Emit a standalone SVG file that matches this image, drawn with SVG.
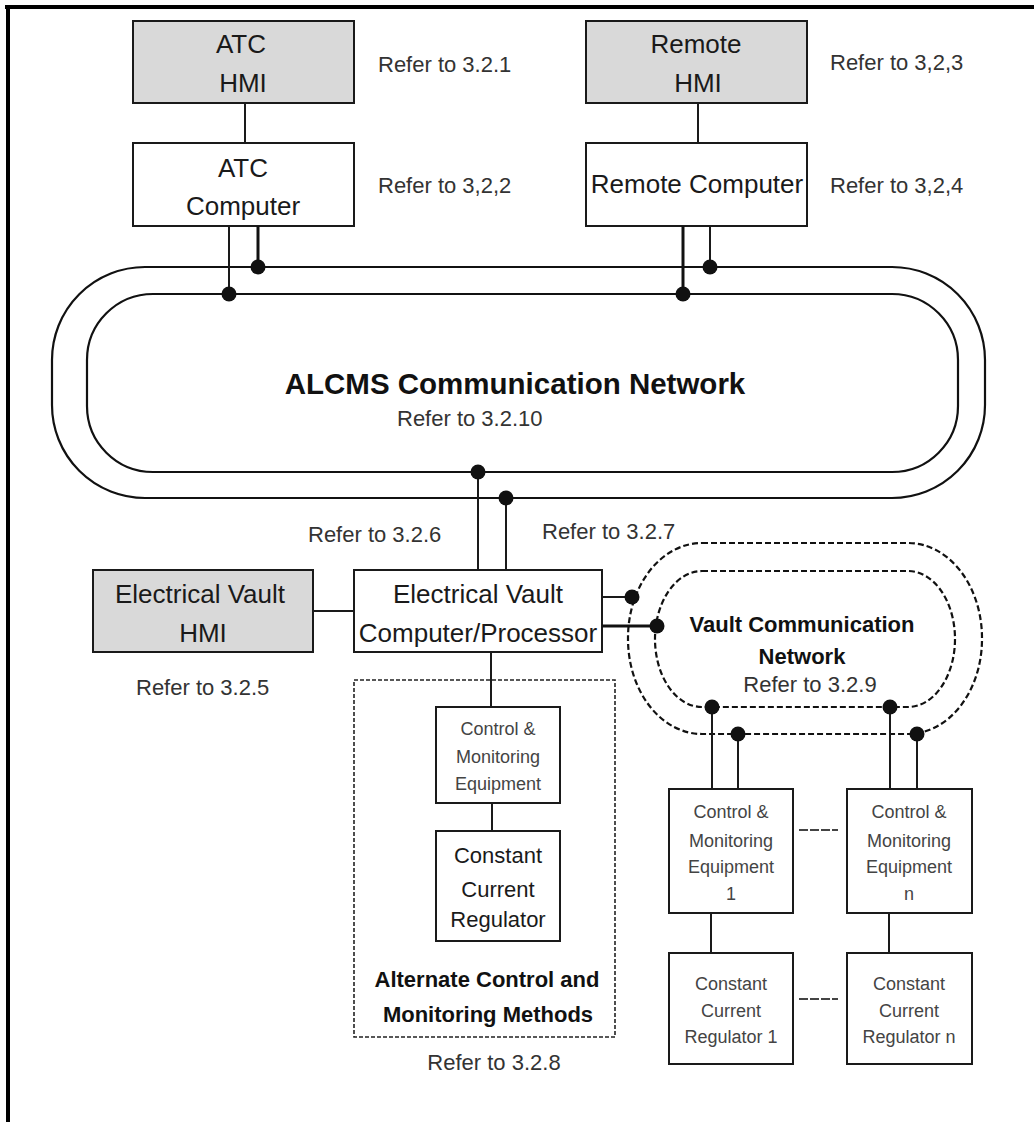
<svg xmlns="http://www.w3.org/2000/svg" width="1034" height="1122" viewBox="0 0 1034 1122">
<style>
.box{fill:#fff;stroke:#1a1a1a;stroke-width:2}
.gbox{fill:#d9d9d9;stroke:#1a1a1a;stroke-width:2}
.t{font-family:"Liberation Sans",Arial,sans-serif;font-size:26px;fill:#1a1a1a;text-anchor:middle}
.r{font-family:"Liberation Sans",Arial,sans-serif;font-size:22px;fill:#333}
.s{font-family:"Liberation Sans",Arial,sans-serif;font-size:18px;fill:#444;text-anchor:middle}
.m{font-family:"Liberation Sans",Arial,sans-serif;font-size:22px;fill:#1a1a1a;text-anchor:middle}
.b{font-family:"Liberation Sans",Arial,sans-serif;font-weight:bold;fill:#111;text-anchor:middle}
.ln{stroke:#1a1a1a;stroke-width:2;fill:none}
.lt{stroke:#111;stroke-width:3;fill:none}
.ring{fill:none;stroke:#111;stroke-width:2.2}
.dring{fill:none;stroke:#111;stroke-width:2.2;stroke-dasharray:6,3}
.dot{fill:#111}
</style>
<rect width="1034" height="1122" fill="#fff"/>
<!-- page border -->
<rect x="5" y="5" width="1029" height="4" fill="#000"/>
<rect x="6" y="5" width="4" height="1117" fill="#000"/>

<g id="alcms-network">
<rect class="ring" x="52" y="267" width="933" height="231" rx="93" ry="93"/>
<rect class="ring" x="87" y="294" width="871" height="178" rx="66" ry="66"/>
<text class="b" x="515" y="394" font-size="29.5">ALCMS Communication Network</text>
<text class="r" x="397" y="426">Refer to 3.2.10</text>
</g>

<g id="vault-network">
<rect class="dring" x="628" y="543" width="354" height="191" rx="74" ry="95"/>
<rect class="dring" x="655" y="571" width="300" height="136" rx="47" ry="68"/>
<text class="b" x="802" y="632" font-size="22">Vault Communication</text>
<text class="b" x="802" y="664" font-size="22">Network</text>
<text class="r" x="810" y="692" text-anchor="middle">Refer to 3.2.9</text>
</g>

<g id="atc-hmi">
<rect class="gbox" x="133" y="21" width="221" height="82"/>
<text class="t" x="241" y="53">ATC</text>
<text class="t" x="243" y="92">HMI</text>
<text class="r" x="378" y="72">Refer to 3.2.1</text>
</g>
<g id="atc-computer">
<rect class="box" x="133" y="143" width="221" height="83"/>
<text class="t" x="243" y="177">ATC</text>
<text class="t" x="243" y="215">Computer</text>
<text class="r" x="378" y="193">Refer to 3,2,2</text>
</g>
<g id="remote-hmi">
<rect class="gbox" x="586" y="21" width="221" height="82"/>
<text class="t" x="696" y="53">Remote</text>
<text class="t" x="698" y="92">HMI</text>
<text class="r" x="830" y="70">Refer to 3,2,3</text>
</g>
<g id="remote-computer">
<rect class="box" x="586" y="143" width="221" height="83"/>
<text class="t" x="697" y="193">Remote Computer</text>
<text class="r" x="830" y="193">Refer to 3,2,4</text>
</g>
<g id="ev-hmi">
<rect class="gbox" x="93" y="570" width="220" height="82"/>
<text class="t" x="200" y="603">Electrical Vault</text>
<text class="t" x="203" y="642">HMI</text>
<text class="r" x="136" y="695">Refer to 3.2.5</text>
</g>
<g id="ev-computer">
<rect class="box" x="354" y="570" width="248" height="82"/>
<text class="t" x="478" y="603">Electrical Vault</text>
<text class="t" x="478" y="642">Computer/Processor</text>
<text class="r" x="308" y="542">Refer to 3.2.6</text>
<text class="r" x="542" y="539">Refer to 3.2.7</text>
</g>
<g id="alternate-methods">
<rect x="354" y="680" width="261" height="357" fill="none" stroke="#222" stroke-width="1.6" stroke-dasharray="4,2"/>
<text class="b" x="487" y="987" font-size="22">Alternate Control and</text>
<text class="b" x="488" y="1022" font-size="22">Monitoring Methods</text>
<text class="r" x="494" y="1070" text-anchor="middle">Refer to 3.2.8</text>
</g>
<g id="alt-cme">
<rect class="box" x="436" y="707" width="124" height="96"/>
<text class="s" x="498" y="735">Control &amp;</text>
<text class="s" x="498" y="763">Monitoring</text>
<text class="s" x="498" y="790">Equipment</text>
</g>
<g id="alt-ccr">
<rect class="box" x="436" y="831" width="124" height="110"/>
<text class="m" x="498" y="863">Constant</text>
<text class="m" x="498" y="897">Current</text>
<text class="m" x="498" y="927">Regulator</text>
</g>
<g id="cme-1">
<rect class="box" x="669" y="789" width="124" height="124"/>
<text class="s" x="731" y="818">Control &amp;</text>
<text class="s" x="731" y="847">Monitoring</text>
<text class="s" x="731" y="873">Equipment</text>
<text class="s" x="731" y="900">1</text>
</g>
<g id="cme-n">
<rect class="box" x="847" y="789" width="125" height="124"/>
<text class="s" x="909" y="818">Control &amp;</text>
<text class="s" x="909" y="847">Monitoring</text>
<text class="s" x="909" y="873">Equipment</text>
<text class="s" x="909" y="900">n</text>
</g>
<g id="ccr-1">
<rect class="box" x="669" y="953" width="124" height="111"/>
<text class="s" x="731" y="990">Constant</text>
<text class="s" x="731" y="1017">Current</text>
<text class="s" x="731" y="1043">Regulator 1</text>
</g>
<g id="ccr-n">
<rect class="box" x="847" y="953" width="125" height="111"/>
<text class="s" x="909" y="990">Constant</text>
<text class="s" x="909" y="1017">Current</text>
<text class="s" x="909" y="1043">Regulator n</text>
</g>

<g id="connectors">
<line class="ln" x1="245" y1="103" x2="245" y2="143"/>
<line class="ln" x1="698" y1="103" x2="698" y2="143"/>
<line class="ln" x1="229" y1="226" x2="229" y2="294"/>
<line class="lt" x1="258" y1="226" x2="258" y2="267"/>
<line class="lt" x1="683" y1="226" x2="683" y2="294"/>
<line class="ln" x1="710" y1="226" x2="710" y2="267"/>
<line class="ln" x1="478" y1="472" x2="478" y2="570"/>
<line class="ln" x1="506" y1="498" x2="506" y2="570"/>
<line class="ln" x1="313" y1="611" x2="354" y2="611"/>
<line class="ln" x1="602" y1="597" x2="632" y2="597"/>
<line class="lt" x1="602" y1="626" x2="657" y2="626"/>
<line class="ln" x1="491" y1="652" x2="491" y2="707"/>
<line class="ln" x1="492" y1="803" x2="492" y2="831"/>
<line class="ln" x1="712" y1="707" x2="712" y2="789"/>
<line class="ln" x1="738" y1="734" x2="738" y2="789"/>
<line class="ln" x1="890" y1="707" x2="890" y2="789"/>
<line class="ln" x1="917" y1="734" x2="917" y2="789"/>
<line class="ln" x1="711" y1="913" x2="711" y2="953"/>
<line class="ln" x1="889" y1="913" x2="889" y2="953"/>
<line x1="799" y1="830" x2="838" y2="830" stroke="#444" stroke-width="2" stroke-dasharray="9,2"/>
<line x1="799" y1="999" x2="838" y2="999" stroke="#444" stroke-width="2" stroke-dasharray="9,2"/>
<circle class="dot" cx="229" cy="294" r="7.5"/>
<circle class="dot" cx="258" cy="267" r="7.5"/>
<circle class="dot" cx="683" cy="294" r="7.5"/>
<circle class="dot" cx="710" cy="267" r="7.5"/>
<circle class="dot" cx="478" cy="472" r="7.5"/>
<circle class="dot" cx="506" cy="498" r="7.5"/>
<circle class="dot" cx="632" cy="597" r="7.5"/>
<circle class="dot" cx="657" cy="626" r="7.5"/>
<circle class="dot" cx="712" cy="707" r="7.5"/>
<circle class="dot" cx="890" cy="707" r="7.5"/>
<circle class="dot" cx="738" cy="734" r="7.5"/>
<circle class="dot" cx="917" cy="734" r="7.5"/>
</g>
</svg>
